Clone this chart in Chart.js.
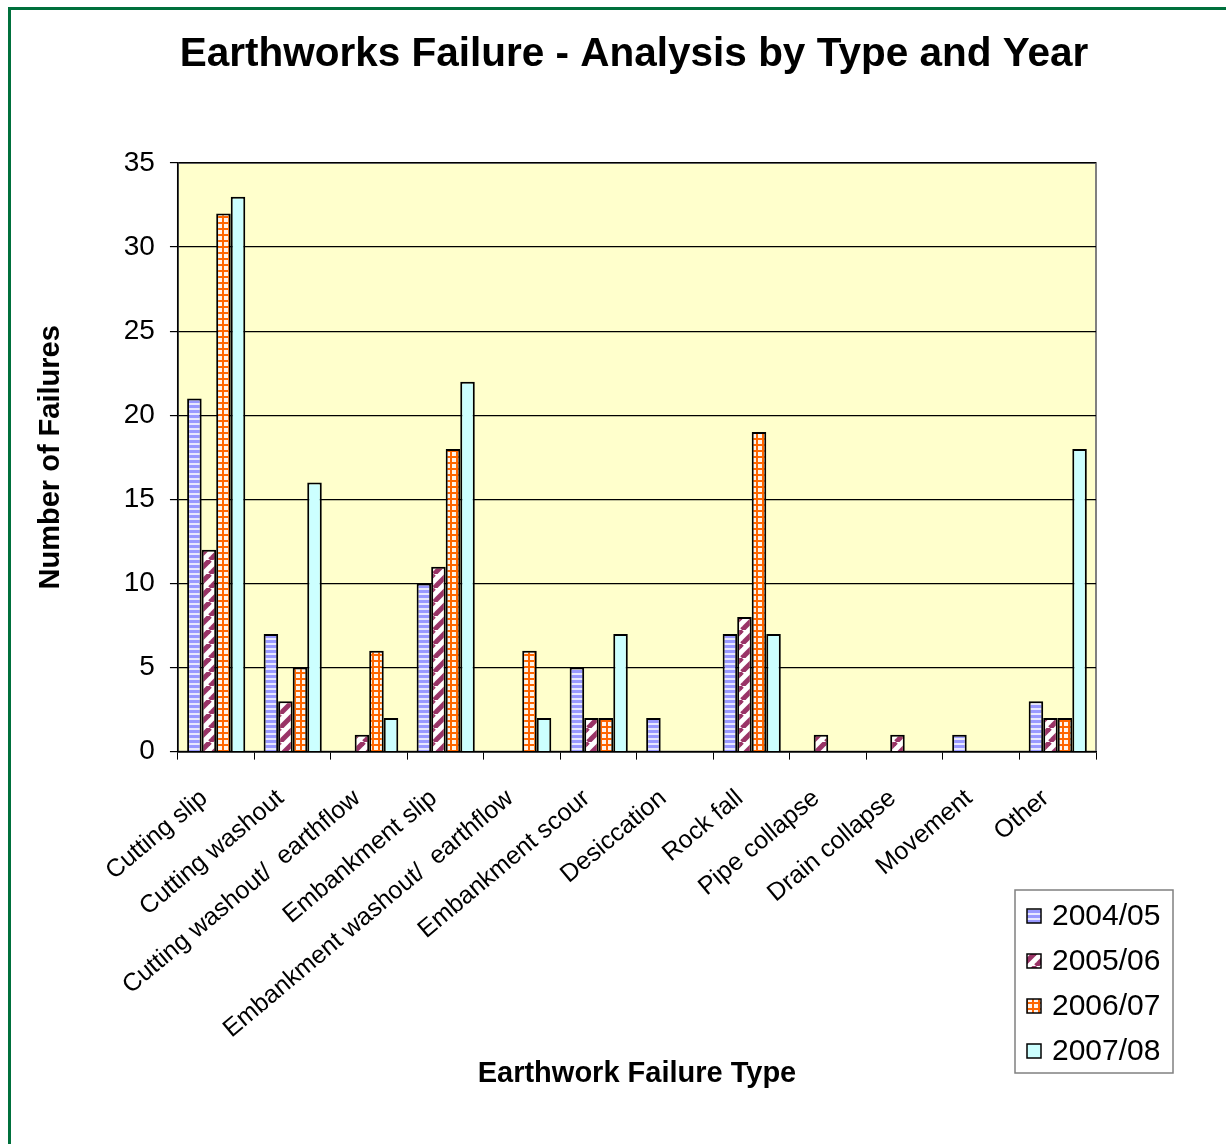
<!DOCTYPE html>
<html>
<head>
<meta charset="utf-8">
<script src="https://cdn.jsdelivr.net/npm/chart.js@4.4.1/dist/chart.umd.min.js"></script>
<style>
    html, body { margin: 0; padding: 0; background: #fff; overflow: hidden; }
    #frame {
        position: absolute; left: 8px; top: 7px; width: 1400px; height: 1300px;
        border: 3px solid #00703c; box-sizing: border-box;
    }
    #wrap { position: absolute; left: 0; top: 0; width: 1226px; height: 1144px; }
</style>
</head>
<body>
<div id="frame"></div>
<div id="wrap"><canvas id="failuresChart"></canvas></div>
<script>
const chartTitle = 'Earthworks Failure - Analysis by Type and Year';
const categories = [
    'Cutting slip', 'Cutting washout', 'Cutting washout/  earthflow', 'Embankment slip',
    'Embankment washout/  earthflow', 'Embankment scour', 'Desiccation', 'Rock fall',
    'Pipe collapse', 'Drain collapse', 'Movement', 'Other'
];
const years = ['2004/05', '2005/06', '2006/07', '2007/08'];
const y2004 = [21, 7, 0, 10, 0, 5, 2, 7, 0, 0, 1, 3];
const y2005 = [12, 3, 1, 11, 0, 2, 0, 8, 1, 1, 0, 2];
const y2006 = [32, 5, 6, 18, 6, 2, 0, 19, 0, 0, 0, 2];
const y2007 = [33, 16, 2, 22, 2, 7, 0, 7, 0, 0, 0, 18];
const yTicks = [0, 5, 10, 15, 20, 25, 30, 35];

const FONT = '"Liberation Sans", Arial, sans-serif';

// fill patterns, like the Excel ones
function makePattern(kind) {
    const c = document.createElement('canvas');
    const g = c.getContext('2d');
    if (kind === 'hstripe') {
        c.width = 6; c.height = 5;
        g.fillStyle = '#e8e8ff'; g.fillRect(0, 0, 6, 5);
        g.fillStyle = '#9999ff'; g.fillRect(0, 0, 6, 3);
    } else if (kind === 'diag') {
        c.width = 14; c.height = 14;
        g.fillStyle = '#ffffff'; g.fillRect(0, 0, 14, 14);
        g.strokeStyle = '#993366'; g.lineWidth = 5;
        for (let k = -14; k <= 28; k += 14) {
            g.beginPath(); g.moveTo(k, 14); g.lineTo(k + 14, 0); g.stroke();
        }
    } else if (kind === 'grid') {
        c.width = 6; c.height = 6;
        g.fillStyle = '#fff4ec'; g.fillRect(0, 0, 6, 6);
        g.fillStyle = '#ff6600';
        g.fillRect(0, 0, 6, 2); g.fillRect(0, 0, 2, 6);
    } else {
        return '#ccffff';
    }
    return g.createPattern(c, 'repeat');
}

const fills = [makePattern('hstripe'), makePattern('diag'), makePattern('grid'), makePattern('solid')];
const seriesValues = [y2004, y2005, y2006, y2007];

const plotBackground = {
    id: 'plotBackground',
    beforeDraw(chart) {
        const a = chart.chartArea, ctx = chart.ctx;
        ctx.save();
        ctx.fillStyle = '#ffffcc';
        ctx.fillRect(a.left, a.top, a.right - a.left, a.bottom - a.top);
        ctx.strokeStyle = '#808080';
        ctx.lineWidth = 2;
        ctx.strokeRect(a.left, a.top, a.right - a.left, a.bottom - a.top);
        ctx.restore();
    }
};

// title centred over the plot, as Excel does it
const plotTitle = {
    id: 'plotTitle',
    afterDraw(chart) {
        const a = chart.chartArea, ctx = chart.ctx;
        ctx.save();
        ctx.font = 'bold 40.5px ' + FONT;
        ctx.fillStyle = '#000';
        ctx.textAlign = 'center';
        ctx.textBaseline = 'middle';
        ctx.fillText(chartTitle, (a.left + a.right) / 2 - 3, 55);
        ctx.restore();
    }
};

// legend box sits below the plot, right of the rotated labels
const boxLegend = {
    id: 'boxLegend',
    afterDraw(chart) {
        const ctx = chart.ctx;
        const x = 1015, y = 890, w = 158, h = 183;
        ctx.save();
        ctx.fillStyle = '#fff';
        ctx.fillRect(x, y, w, h);
        ctx.strokeStyle = '#808080';
        ctx.lineWidth = 1.5;
        ctx.strokeRect(x, y, w, h);
        ctx.font = '30px ' + FONT;
        ctx.textBaseline = 'middle';
        chart.data.datasets.forEach((ds, i) => {
            const cy = y + 26 + i * 45;
            ctx.fillStyle = ds.backgroundColor;
            ctx.fillRect(x + 12, cy - 7, 14, 14);
            ctx.strokeStyle = '#000';
            ctx.lineWidth = 1.5;
            ctx.strokeRect(x + 12, cy - 7, 14, 14);
            ctx.fillStyle = '#000';
            ctx.fillText(ds.label, x + 37, cy + 1);
        });
        ctx.restore();
    }
};

const data = {
    labels: categories,
    datasets: years.map((yr, i) => ({
        label: yr,
        data: seriesValues[i],
        backgroundColor: fills[i],
        borderColor: '#000',
        borderWidth: 2,
        categoryPercentage: 0.76,
        barPercentage: 1.0
    }))
};

const config = {
    type: 'bar',
    data: data,
    options: {
        responsive: true,
        maintainAspectRatio: false,
        animation: false,
        layout: { padding: { top: 163, left: 30, right: 130, bottom: 53 } },
        scales: {
            x: {
                grid: { display: true, offset: true, drawOnChartArea: false, color: '#000', tickLength: 8 },
                border: { color: '#000', width: 1.5 },
                ticks: {
                    color: '#000', autoSkip: false, minRotation: 40, maxRotation: 40,
                    padding: 24, labelOffset: -12,
                    font: { size: 25, family: FONT }
                },
                title: {
                    display: true, text: 'Earthwork Failure Type', color: '#000',
                    font: { size: 29, weight: 'bold', family: FONT },
                    padding: { top: -12, bottom: 0 }
                }
            },
            y: {
                min: 0, max: 35,
                afterBuildTicks(scale) { scale.ticks = yTicks.map(v => ({ value: v })); },
                grid: { color: '#000', lineWidth: 1.2, tickLength: 8 },
                border: { color: '#000', width: 1.5 },
                ticks: {
                    color: '#000', padding: 15,
                    font: { size: 28, family: FONT }
                },
                title: {
                    display: true, text: 'Number of Failures', color: '#000',
                    font: { size: 29, weight: 'bold', family: FONT },
                    padding: { bottom: 40 }
                }
            }
        },
        plugins: {
            legend: { display: false },
            tooltip: { enabled: false },
            title: { display: false }
        }
    },
    plugins: [plotBackground, plotTitle, boxLegend]
};

const failuresChart = new Chart(document.getElementById('failuresChart'), config);
</script>
</body>
</html>
